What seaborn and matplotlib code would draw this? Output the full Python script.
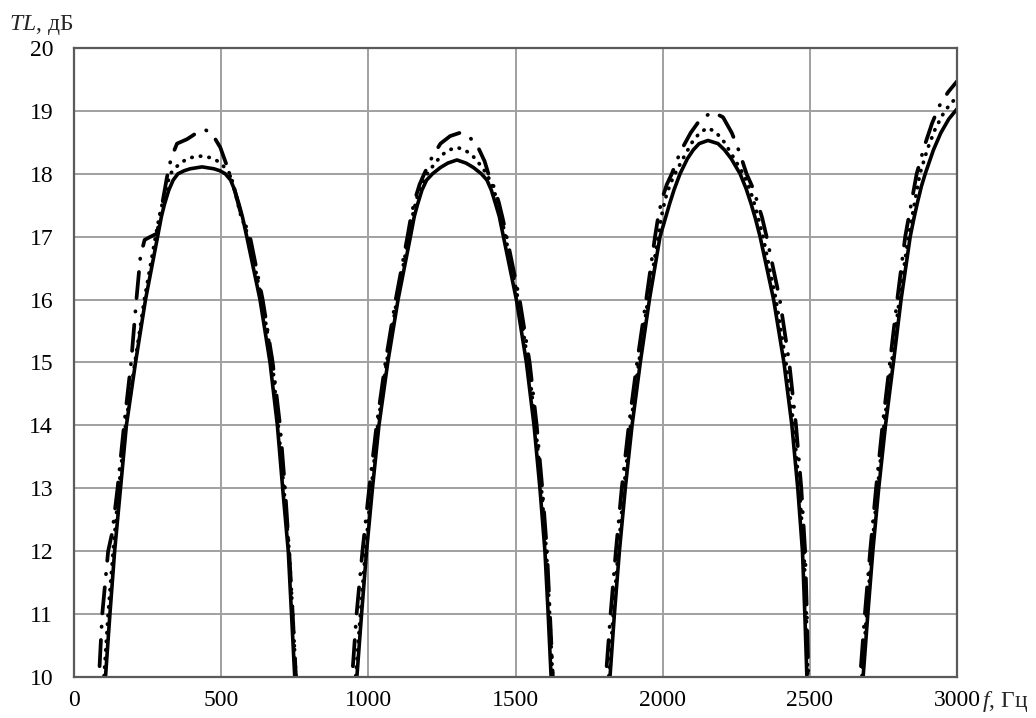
import matplotlib
matplotlib.use("Agg")
import matplotlib.pyplot as plt
import seaborn as sns

# ---- data ----
# solid curve
f_solid = [92, 107, 122, 138, 158, 178, 209, 243, 284, 297, 307, 322, 337, 353, 375, 395, 435,
           475, 495, 514, 532, 546, 561, 572, 587, 632, 666, 691, 709, 728, 739, 750, 762,
           946, 961, 977, 994, 1014, 1036, 1066, 1101, 1143, 1156, 1167, 1182, 1198, 1218, 1245, 1270, 1301,
           1332, 1357, 1384, 1403, 1418, 1433, 1445, 1459, 1503, 1537, 1563, 1583, 1600, 1611, 1621, 1632,
           1806, 1821, 1836, 1853, 1873, 1896, 1924, 1955, 1991, 2009, 2024, 2039, 2059, 2084, 2104, 2124, 2154,
           2188, 2210, 2233, 2263, 2283, 2300, 2315, 2331, 2377, 2412, 2439, 2459, 2475, 2483, 2490, 2500,
           2666, 2681, 2697, 2714, 2734, 2757, 2784, 2810, 2841, 2854, 2866, 2879, 2892, 2920, 2945, 2972, 3000]
tl_solid = [9, 10, 11, 12, 13, 14, 15, 16, 17, 17.32, 17.51, 17.74, 17.9, 18.0, 18.05, 18.08, 18.11,
            18.08, 18.05, 18.0, 17.9, 17.74, 17.51, 17.32, 17, 16, 15, 14, 13, 12, 11, 10, 9,
            9, 10, 11, 12, 13, 14, 15, 16, 17, 17.32, 17.51, 17.74, 17.9, 18.0, 18.1, 18.17, 18.22,
            18.17, 18.1, 18.0, 17.9, 17.74, 17.51, 17.32, 17, 16, 15, 14, 13, 12, 11, 10, 9,
            9, 10, 11, 12, 13, 14, 15, 16, 17, 17.29, 17.53, 17.75, 18.0, 18.24, 18.38, 18.48, 18.53,
            18.48, 18.38, 18.24, 18.0, 17.77, 17.53, 17.29, 17, 16, 15, 14, 13, 12, 11, 10, 9,
            9, 10, 11, 12, 13, 14, 15, 16, 17, 17.3, 17.55, 17.8, 18.0, 18.38, 18.65, 18.87, 19.03]

# dotted curve
f_dot = [88, 102, 116, 133, 152, 175, 207, 239, 277, 291, 303, 316, 327, 350, 375, 400, 430,
         460, 485, 508, 530, 542, 554, 566, 593, 638, 674, 694, 713, 731, 743, 754, 766,
         942, 957, 973, 990, 1010, 1032, 1062, 1097, 1137, 1151, 1164, 1181, 1200, 1225, 1250, 1275, 1301,
         1327, 1352, 1377, 1402, 1420, 1436, 1450, 1466, 1509, 1543, 1568, 1588, 1605, 1616, 1626, 1637,
         1802, 1817, 1832, 1849, 1868, 1891, 1919, 1950, 1985, 1997, 2009, 2025, 2042, 2070, 2100, 2127, 2154,
         2181, 2210, 2242, 2274, 2290, 2307, 2322, 2341, 2385, 2419, 2445, 2464, 2480, 2488, 2493, 2503,
         2662, 2677, 2693, 2710, 2730, 2752, 2778, 2804, 2835, 2874, 2900, 2925, 2950, 2975, 3000]
tl_dot = [9, 10, 11, 12, 13, 14, 15, 16, 17, 17.35, 17.58, 17.82, 18.0, 18.12, 18.21, 18.26, 18.28,
          18.26, 18.21, 18.12, 18.0, 17.82, 17.58, 17.35, 17, 16, 15, 14, 13, 12, 11, 10, 9,
          9, 10, 11, 12, 13, 14, 15, 16, 17, 17.35, 17.6, 17.83, 18.0, 18.16, 18.3, 18.38, 18.42,
          18.38, 18.3, 18.16, 18.0, 17.83, 17.6, 17.35, 17, 16, 15, 14, 13, 12, 11, 10, 9,
          9, 10, 11, 12, 13, 14, 15, 16, 17, 17.35, 17.6, 17.83, 18.0, 18.25, 18.5, 18.66, 18.73,
          18.66, 18.5, 18.25, 18.0, 17.83, 17.6, 17.35, 17, 16, 15, 14, 13, 12, 11, 10, 9,
          9, 10, 11, 12, 13, 14, 15, 16, 17, 18.0, 18.4, 18.7, 18.93, 19.1, 19.22]

# dash-dot curve
f_dash = [72, 85, 96, 116, 130, 148, 170, 194, 212, 226, 240, 260, 282, 299, 316, 330, 350, 384, 420, 446,
          470, 497, 520, 528, 548, 565, 598, 641, 675, 700, 717, 731, 743, 754, 766,
          930, 945, 960, 980, 1003, 1028, 1058, 1093, 1133, 1146, 1159, 1174, 1190, 1215, 1245, 1278, 1310,
          1340, 1370, 1395, 1408, 1426, 1443, 1456, 1470, 1514, 1548, 1572, 1591, 1607, 1617, 1627, 1638,
          1792, 1807, 1823, 1841, 1861, 1885, 1913, 1944, 1974, 1986, 1998, 2014, 2031, 2060, 2095, 2130, 2171,
          2205, 2235, 2262, 2285, 2304, 2322, 2338, 2353, 2398, 2430, 2453, 2471, 2484, 2490, 2495, 2505,
          2656, 2671, 2687, 2705, 2725, 2747, 2772, 2797, 2824, 2863, 2890, 2915, 2940, 2970, 3000]
tl_dash = [9, 10, 11, 12, 12.3, 13, 14, 15, 16, 16.7, 16.95, 17.0, 17.05, 17.5, 17.95, 18.25, 18.48, 18.55, 18.66, 18.7,
           18.63, 18.42, 18.12, 18.0, 17.7, 17.4, 17, 16, 15, 14, 13, 12, 11, 10, 9,
           9, 10, 11, 12, 13, 14, 15, 16, 17, 17.35, 17.6, 17.83, 18.0, 18.25, 18.48, 18.6, 18.65,
           18.6, 18.45, 18.2, 18.0, 17.8, 17.55, 17.3, 17, 16, 15, 14, 13, 12, 11, 10, 9,
           9, 10, 11, 12, 13, 14, 15, 16, 17, 17.35, 17.6, 17.83, 18.0, 18.35, 18.65, 18.88, 18.98,
           18.9, 18.65, 18.33, 18.0, 17.8, 17.55, 17.3, 17, 16, 15, 14, 13, 12, 11, 10, 9,
           9, 10, 11, 12, 13, 14, 15, 16, 17, 18.0, 18.45, 18.8, 19.08, 19.3, 19.47]

x_ticks = [0, 500, 1000, 1500, 2000, 2500, 3000]
y_ticks = [10, 11, 12, 13, 14, 15, 16, 17, 18, 19, 20]

# ---- style ----
sns.set_theme(style="white")
plt.rcParams['font.family'] = ['Liberation Serif', 'DejaVu Serif']
plt.rcParams['mathtext.fontset'] = 'custom'
plt.rcParams['mathtext.rm'] = 'Liberation Serif'
plt.rcParams['mathtext.it'] = 'Liberation Serif:italic'

fig = plt.figure(figsize=(10.36, 7.18), dpi=100)
ax = fig.add_axes([74 / 1036, 41 / 718, 883 / 1036, 629 / 718])

sns.lineplot(x=f_solid, y=tl_solid, ax=ax, sort=False, estimator=None, color='black', lw=2.6, linestyle='-')
sns.lineplot(x=f_dot, y=tl_dot, ax=ax, sort=False, estimator=None, color='black', lw=2.7,
             linestyle=(0, (0.1, 2.2)), dash_capstyle='round')
sns.lineplot(x=f_dash, y=tl_dash, ax=ax, sort=False, estimator=None, color='black', lw=2.7,
             linestyle=(0, (7, 3.5, 0.1, 3.5)), dash_capstyle='round')

ax.set_xlim(0, 3000)
ax.set_ylim(10, 20)
ax.set_xticks(x_ticks)
ax.set_yticks(y_ticks)
ax.set_xticklabels([str(t) for t in x_ticks])
ax.set_yticklabels([str(t) for t in y_ticks])
ax.tick_params(axis='both', length=0, labelsize=17, colors='black')
ax.tick_params(axis='x', pad=9)
ax.tick_params(axis='y', pad=15)
ax.grid(True, color='#a0a0a0', lw=1.4)
ax.set_axisbelow(True)
for s in ax.spines.values():
    s.set_color('#5a5a5a')
    s.set_linewidth(1.6)
    s.set_visible(True)

ax.set_xlabel('')
ax.set_ylabel('')
fig.text(982 / 1036, 1 - 702 / 718, '$f$, Гц', fontsize=17, ha='left', va='center')
fig.text(9 / 1036, 1 - 25 / 718, '$TL$, дБ', fontsize=17, ha='left', va='center')

fig.savefig('out.png', dpi=100)
